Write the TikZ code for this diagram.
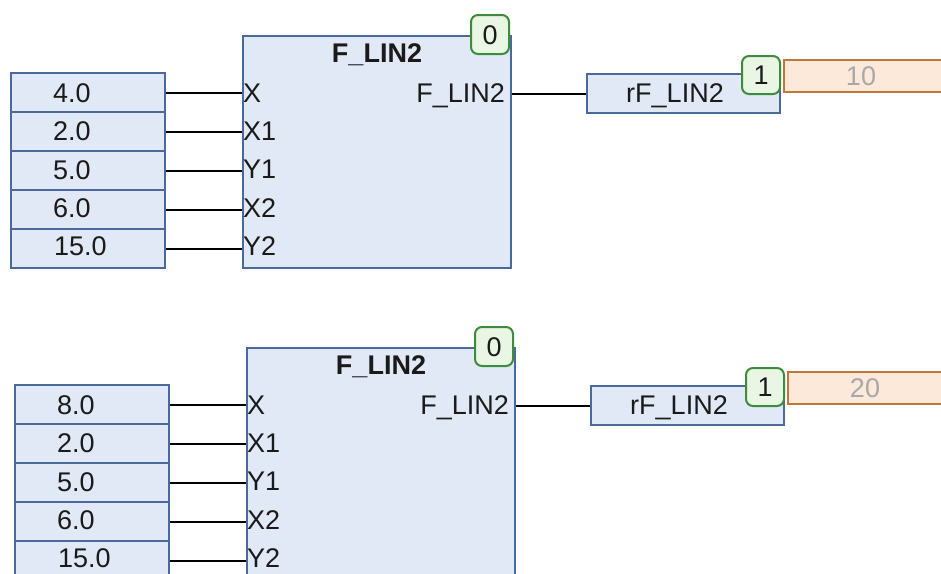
\documentclass[tikz,border=0pt]{standalone}
\usepackage{fontspec}
\setmainfont{Liberation Sans}
\definecolor{blkfill}{HTML}{E1E9F6}
\definecolor{blkdraw}{HTML}{4A6A9C}
\definecolor{bdgfill}{HTML}{E9F6E3}
\definecolor{bdgdraw}{HTML}{3D8B3D}
\definecolor{orfill}{HTML}{FDE9DA}
\definecolor{ordraw}{HTML}{C0783A}
\definecolor{ortext}{HTML}{A8A8A8}
\definecolor{txtcol}{HTML}{1A1A1A}
\newcommand\fsz{\fontsize{27}{30}\selectfont}
\tikzset{
  fbdbox/.style={draw=blkdraw, fill=blkfill, line width=2pt, rectangle, inner sep=0pt, anchor=north west},
  badge/.style={draw=bdgdraw, fill=bdgfill, line width=2pt, rounded corners=7pt, anchor=north west, inner sep=0pt, font=\fsz, text=txtcol, text height=19pt, text depth=0pt},
  resbox/.style={draw=ordraw, fill=orfill, line width=2pt, anchor=north west, inner sep=0pt, font=\fsz, text=ortext, text height=19pt, text depth=0pt},
  wire/.style={draw=black, line width=2pt},
  txt/.style={font=\fsz, inner sep=0pt, text=txtcol, text height=19pt, text depth=0pt}
}
\newcommand\fbdiag[5]{%
\begin{scope}[shift={(#2,#3)}]
  \node[fbdbox, minimum width=268, minimum height=232] (#1blk) at (242,35) {};
  \node[txt, font=\bfseries\fsz] (#1title) at (377,53) {F\_LIN2};
  \node[fbdbox, minimum width=154, minimum height=39] (#1v1) at (10,72) {};
  \node[fbdbox, minimum width=154, minimum height=39] (#1v2) at (10,111) {};
  \node[fbdbox, minimum width=154, minimum height=39] (#1v3) at (10,150) {};
  \node[fbdbox, minimum width=154, minimum height=39] (#1v4) at (10,189) {};
  \node[fbdbox, minimum width=154, minimum height=39] (#1v5) at (10,228) {};
  \node[txt, anchor=west] (#1t1) at (53,93) {#4};
  \node[txt, anchor=west] (#1t2) at (53,131) {2.0};
  \node[txt, anchor=west] (#1t3) at (53,170) {5.0};
  \node[txt, anchor=west] (#1t4) at (53,208) {6.0};
  \node[txt, anchor=west] (#1t5) at (54,246) {15.0};
  \node[txt, anchor=west] (#1p1) at (243,93) {X};
  \node[txt, anchor=west] (#1p2) at (243,131) {X1};
  \node[txt, anchor=west] (#1p3) at (243,169) {Y1};
  \node[txt, anchor=west] (#1p4) at (243,208) {X2};
  \node[txt, anchor=west] (#1p5) at (243,246) {Y2};
  \draw[wire] (#1v1.east) -- (#1v1.east -| #1blk.west);
  \draw[wire] (#1v2.east) -- (#1v2.east -| #1blk.west);
  \draw[wire] (#1v3.east) -- (#1v3.east -| #1blk.west);
  \draw[wire] (#1v4.east) -- (#1v4.east -| #1blk.west);
  \draw[wire] (#1v5.east) -- (#1v5.east -| #1blk.west);
  \node[txt, anchor=east] (#1out) at (505,93) {F\_LIN2};
  \node[fbdbox, minimum width=193, minimum height=39] (#1rf) at (586,73) {};
  \node[txt] (#1rft) at (675,93) {rF\_LIN2};
  \draw[wire] (#1rf.west -| #1blk.east) -- (#1rf.west);
  \node[badge, minimum width=38, minimum height=39] (#1b0) at (470,14) {0};
  \node[badge, minimum width=38, minimum height=38] (#1b1) at (741,55) {1};
  \node[resbox, minimum width=170, minimum height=32] (#1res) at (783,59) {\hspace*{-16pt}#5};
\end{scope}}
\begin{document}
\begin{tikzpicture}[x=1pt, y=-1pt]
  \useasboundingbox (0,0) rectangle (941,573);
  \clip (0,0) rectangle (941,573);
  \fbdiag{a}{0}{0}{4.0}{10}
  \fbdiag{b}{4}{312}{8.0}{20}
\end{tikzpicture}
\end{document}
